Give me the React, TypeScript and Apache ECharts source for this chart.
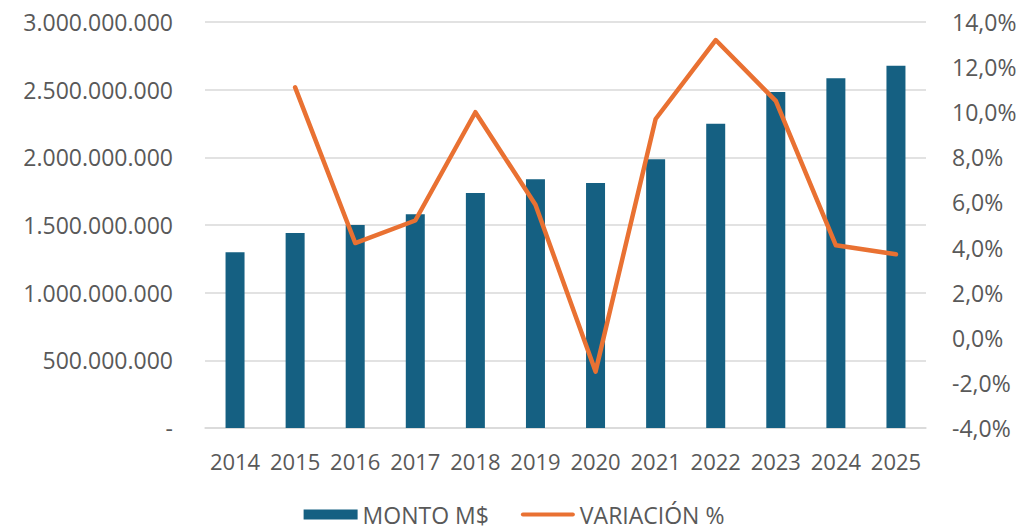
import React, { useEffect, useRef } from "react";
import * as echarts from "echarts";

const categories = ["2014", "2015", "2016", "2017", "2018", "2019", "2020", "2021", "2022", "2023", "2024", "2025"];
const montoValues = [1298000000, 1441000000, 1500000000, 1579000000, 1736000000, 1838000000, 1810000000, 1985000000, 2249000000, 2483000000, 2584000000, 2677000000];
const variacionValues: (number | null)[] = [null, 11.1, 4.2, 5.2, 10.0, 5.9, -1.5, 9.7, 13.2, 10.5, 4.1, 3.7];

const fontFamily = "'Open Sans', sans-serif";
const textColor = "#595959";

export default function App() {
  const ref = useRef<HTMLDivElement>(null);
  useEffect(() => {
    document.body.style.margin = "0";
    const chart = echarts.init(ref.current!, null, { renderer: "svg" });
    chart.setOption({
      animation: false,
      textStyle: { fontFamily },
      grid: { left: 205, right: 102, top: 22, bottom: 103, containLabel: false },
      legend: {
        bottom: 0,
        left: "center",
        itemWidth: 54,
        itemHeight: 10,
        itemGap: 32,
        textStyle: { fontSize: 23, color: textColor, fontFamily },
        data: [
          { name: "MONTO M$", icon: "rect" },
          { name: "VARIACIÓN %", icon: "path://M2,0 L52,0 A2,2 0 0 1 52,4 L2,4 A2,2 0 0 1 2,0 Z" },
        ],
      },
      xAxis: {
        type: "category",
        data: categories,
        axisTick: { show: false },
        axisLine: { lineStyle: { color: "#D9D9D9", width: 1.5 } },
        axisLabel: { fontSize: 22, color: textColor, margin: 22, fontFamily, interval: 0 },
      },
      yAxis: [
        {
          type: "value",
          min: 0,
          max: 3000000000,
          interval: 500000000,
          axisLine: { show: false },
          axisTick: { show: false },
          splitLine: { lineStyle: { color: "#D9D9D9", width: 1.5 } },
          axisLabel: {
            fontSize: 23,
            color: textColor,
            margin: 32,
            fontFamily,
            formatter: (v: number) => (v === 0 ? "-" : Math.round(v).toString().replace(/\B(?=(\d{3})+(?!\d))/g, ".")),
          },
        },
        {
          type: "value",
          min: -4,
          max: 14,
          interval: 2,
          position: "right",
          axisLine: { show: false },
          axisTick: { show: false },
          splitLine: { show: false },
          axisLabel: {
            fontSize: 23,
            color: textColor,
            margin: 26,
            fontFamily,
            formatter: (v: number) => v.toFixed(1).replace(".", ",") + "%",
          },
        },
      ],
      series: [
        {
          name: "MONTO M$",
          type: "bar",
          data: montoValues,
          barWidth: 19,
          itemStyle: { color: "#156082" },
          yAxisIndex: 0,
        },
        {
          name: "VARIACIÓN %",
          type: "line",
          data: variacionValues,
          yAxisIndex: 1,
          symbol: "none",
          showSymbol: false,
          lineStyle: { color: "#E97132", width: 4.5, cap: "round", join: "round" },
          itemStyle: { color: "#E97132" },
        },
      ],
    });
    return () => chart.dispose();
  }, []);
  return <div ref={ref} style={{ width: 1028, height: 531 }} />;
}
